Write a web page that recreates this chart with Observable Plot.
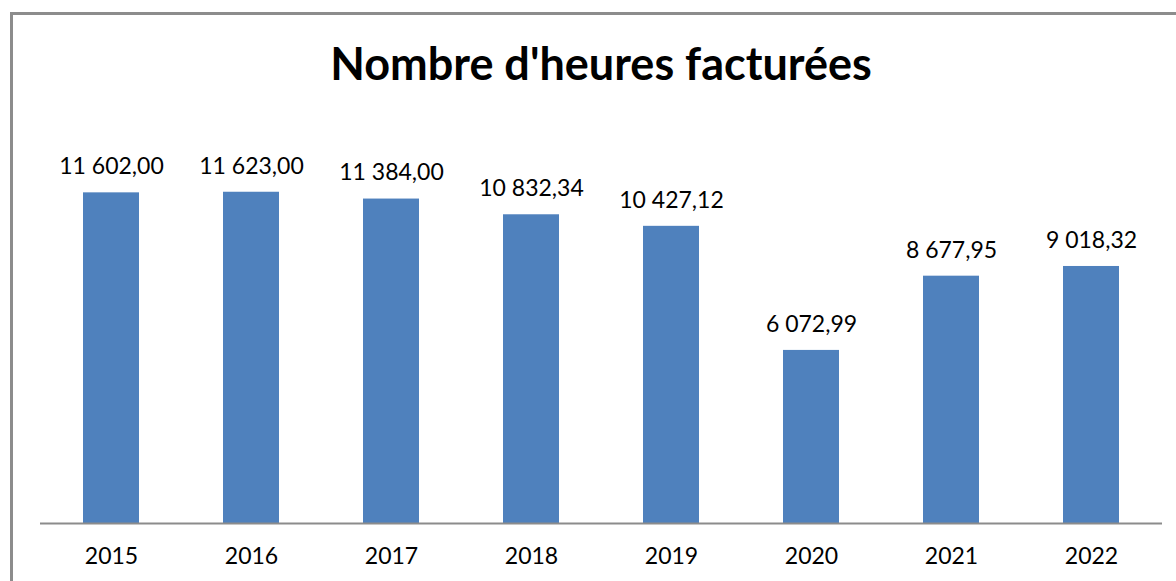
<!DOCTYPE html>
<html>
<head>
<meta charset="utf-8">
<script src="https://cdn.jsdelivr.net/npm/d3@7"></script>
<script src="https://cdn.jsdelivr.net/npm/@observablehq/plot@0.6"></script>
<style>
  html, body { margin: 0; padding: 0; background: #fff; overflow: hidden; }
  body { width: 1176px; height: 581px; position: relative; font-family: Lato, "Open Sans", sans-serif; }
  #frame { position: absolute; left: 10px; top: 12px; width: 1200px; height: 620px;
           border-left: 3px solid #8c8c8c; border-top: 3px solid #8c8c8c; box-sizing: border-box; }
  #title { position: absolute; left: 0; width: 1202px; top: 36px; text-align: center;
           font-family: Lato, sans-serif; font-weight: bold; font-size: 45px; line-height: 54px; color: #000; }
  #chart { position: absolute; left: 0; top: 0; }
</style>
</head>
<body>
<div id="frame"></div>
<div id="title">Nombre d'heures facturées</div>
<div id="chart"></div>
<script>
const years = ["2015", "2016", "2017", "2018", "2019", "2020", "2021", "2022"];
const hours = [11602.00, 11623.00, 11384.00, 10832.34, 10427.12, 6072.99, 8677.95, 9018.32];

const data = years.map((y, i) => ({year: y, value: hours[i]}));
const fr = d3.formatLocale({decimal: ",", thousands: "\u00a0", grouping: [3], currency: ["", " €"]});
const fmt = fr.format(",.2f");

const chart = Plot.plot({
  width: 1176,
  height: 581,
  marginTop: 124,
  marginBottom: 58,
  marginLeft: 40,
  marginRight: 14,
  style: {fontFamily: "Lato, 'Open Sans', sans-serif", fontSize: "23px", color: "#000", background: "transparent"},
  x: {domain: years, paddingInner: 0.6, paddingOuter: 0.3, label: null, tickSize: 0, tickPadding: 24},
  y: {domain: [0, 14000], axis: null},
  marks: [
    Plot.barY(data, {x: "year", y: "value", fill: "#4f81bd"}),
    Plot.ruleY([0], {stroke: "#8c8c8c", strokeWidth: 2}),
    Plot.text(data, {x: "year", y: "value", text: d => fmt(d.value), dy: -26, lineAnchor: "middle", fontSize: 23, fill: "#000"})
  ]
});
document.getElementById("chart").appendChild(chart);
</script>
</body>
</html>
